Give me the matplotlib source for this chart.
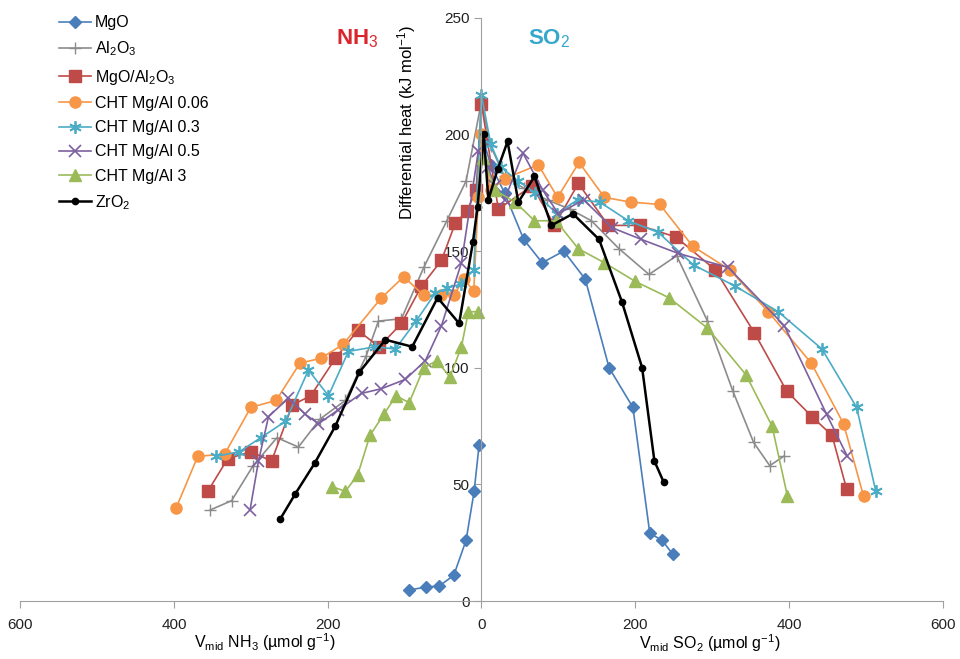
import numpy as np
import matplotlib
matplotlib.use("Agg")
import matplotlib.pyplot as plt
from matplotlib.ticker import FuncFormatter

plt.rcParams['font.family'] = ['Liberation Sans', 'DejaVu Sans']
plt.rcParams['mathtext.fontset'] = 'custom'
plt.rcParams['mathtext.rm'] = 'Liberation Sans'
plt.rcParams['mathtext.it'] = 'Liberation Sans:italic'
plt.rcParams['mathtext.bf'] = 'Liberation Sans:bold'

# uptake (umol/g) and differential heat (kJ/mol); NH3 side is drawn to the left
mgo_nh3_x = [3, 9.5, 20, 36, 55, 72, 94]
mgo_nh3_y = [67, 47, 26, 11, 6.4, 6, 4.7]
mgo_so2_x = [3, 12, 30, 55, 79, 107, 135, 166, 197, 219, 235, 249]
mgo_so2_y = [197, 187, 175, 155, 145, 150, 138, 100, 83, 29, 26, 20]

al_nh3_x = [20, 45, 75, 104, 134, 150, 177, 210, 238, 266, 297, 325, 353]
al_nh3_y = [180, 163, 143, 121, 120, 105, 86, 78, 66, 70, 58, 43, 39]
al_so2_x = [0, 12, 30, 55, 85, 115, 143, 179, 218, 254, 294, 327, 354, 375, 393]
al_so2_y = [214, 195, 182, 177, 172, 168, 163, 151, 140, 148, 120, 90, 68, 58, 62]

mgal_nh3_x = [7, 19, 34, 52, 78, 104, 133, 161, 190, 222, 246, 273, 300, 330, 356]
mgal_nh3_y = [176, 167, 162, 146, 135, 119, 109, 116, 104, 88, 84, 60, 64, 61, 47]
mgal_so2_x = [0, 22, 66, 95, 126, 165, 206, 253, 304, 355, 397, 430, 456, 475]
mgal_so2_y = [213, 168, 178, 161, 179, 161, 161, 156, 142, 115, 90, 79, 71, 48]

c006_nh3_x = [4, 10, 23, 36, 52, 75, 101, 130, 180, 209, 236, 267, 300, 334, 369, 397]
c006_nh3_y = [173, 133, 138, 131, 131, 131, 139, 130, 110, 104, 102, 86, 83, 63, 62, 40]
c006_so2_x = [0, 12, 30, 74, 99, 127, 160, 194, 232, 275, 323, 373, 429, 471, 497]
c006_so2_y = [200, 176, 181, 187, 173, 188, 173, 171, 170, 152, 142, 124, 102, 76, 45]

c03_nh3_x = [10, 26, 45, 60, 85, 112, 138, 173, 199, 225, 255, 287, 315, 345]
c03_nh3_y = [142, 136, 134, 132, 120, 108, 109, 107, 88, 99, 77, 70, 64, 62]
c03_so2_x = [0, 12, 25, 48, 70, 98, 125, 154, 191, 230, 276, 330, 386, 443, 488, 513]
c03_so2_y = [217, 196, 186, 180, 175, 166, 172, 171, 163, 158, 144, 135, 124, 108, 83, 47]

c05_nh3_x = [4, 26, 52, 73, 99, 130, 156, 186, 212, 229, 251, 277, 290, 301]
c05_nh3_y = [193, 145, 118, 103, 95, 91, 89, 82, 76, 80, 87, 79, 60, 39]
c05_so2_x = [8, 18, 30, 54, 80, 100, 133, 170, 208, 256, 321, 394, 449, 476]
c05_so2_y = [186, 178, 172, 192, 176, 166, 172, 160, 155, 149, 143, 118, 80, 62]

c3_nh3_x = [5, 17, 26, 41, 58, 75, 94, 111, 127, 145, 161, 177, 194]
c3_nh3_y = [124, 124, 109, 96, 103, 100, 85, 88, 80, 71, 54, 47, 49]
c3_so2_x = [2, 18, 44, 69, 97, 126, 160, 200, 244, 294, 344, 378, 398]
c3_so2_y = [190, 176, 171, 163, 163, 151, 145, 137, 130, 117, 97, 75, 45]

zr_nh3_x = [5, 11, 29, 57, 90, 125, 159, 190, 217, 242, 262]
zr_nh3_y = [169, 154, 119, 130, 109, 112, 98, 75, 59, 46, 35]
zr_so2_x = [3, 9, 21, 34, 48, 69, 91, 119, 153, 183, 209, 225, 237]
zr_so2_y = [200, 172, 185, 197, 171, 182, 161, 166, 155, 128, 100, 60, 51]

fig = plt.figure(figsize=(9.6, 6.59), dpi=100)
ax = fig.add_axes([0.021, 0.088, 0.961, 0.885])


def draw(nx, ny, sx, sy, label, joined, **kw):
    nx = -np.asarray(nx, float)
    if joined:
        x = np.r_[nx[::-1], sx]
        y = np.r_[np.asarray(ny)[::-1], sy]
        ax.plot(x, y, label=label, **kw)
    else:
        ax.plot(nx, ny, label=label, **kw)
        ax.plot(sx, sy, label='_nolegend_', **kw)


draw(mgo_nh3_x, mgo_nh3_y, mgo_so2_x, mgo_so2_y, 'MgO', False,
     color='#4a7ebb', marker='D', ms=6, lw=1.2)
draw(al_nh3_x, al_nh3_y, al_so2_x, al_so2_y, 'Al$_2$O$_3$', True,
     color='#8c8c8c', marker='+', ms=9, mew=1, lw=1.2)
draw(mgal_nh3_x, mgal_nh3_y, mgal_so2_x, mgal_so2_y, 'MgO/Al$_2$O$_3$', True,
     color='#be4b48', marker='s', ms=8, lw=1.2)
draw(c006_nh3_x, c006_nh3_y, c006_so2_x, c006_so2_y, 'CHT Mg/Al 0.06', True,
     color='#f79646', marker='o', ms=8, lw=1.2)
draw(c03_nh3_x, c03_nh3_y, c03_so2_x, c03_so2_y, 'CHT Mg/Al 0.3', True,
     color='#4bacc6', marker=(6, 2, 0), ms=9, mew=1.3, lw=1.2)
draw(c05_nh3_x, c05_nh3_y, c05_so2_x, c05_so2_y, 'CHT Mg/Al 0.5', True,
     color='#7d60a0', marker='x', ms=8, mew=1.2, lw=1.2)
draw(c3_nh3_x, c3_nh3_y, c3_so2_x, c3_so2_y, 'CHT Mg/Al 3', False,
     color='#9bbb59', marker='^', ms=8, lw=1.2)
draw(zr_nh3_x, zr_nh3_y, zr_so2_x, zr_so2_y, 'ZrO$_2$', True,
     color='black', marker='o', ms=4.5, lw=1.8)

ax.set_xlim(-600, 600)
ax.set_ylim(0, 250)
ax.set_xticks(np.arange(-600, 601, 200))
ax.set_yticks(np.arange(0, 251, 50))
ax.xaxis.set_major_formatter(FuncFormatter(lambda v, p: f"{abs(v):.0f}"))

for s in ['top', 'right']:
    ax.spines[s].set_visible(False)
ax.spines['left'].set_position(('data', 0))
ax.spines['left'].set_color('#a0a0a0')
ax.spines['bottom'].set_color('#a0a0a0')
ax.tick_params(axis='both', colors='#a0a0a0', labelcolor='#222222',
               labelsize=11, length=5, direction='out')
ax.tick_params(axis='x', pad=7)

ax.set_ylabel('Differential heat (kJ mol$^{-1}$)', fontsize=12)
ax.yaxis.set_label_coords(0.431, 0.82)

ax.text(0.265, -0.07, 'V$_{\\rm mid}$ NH$_3$ (µmol g$^{-1}$)', transform=ax.transAxes,
        ha='center', va='center', fontsize=11.5)
ax.text(0.747, -0.073, 'V$_{\\rm mid}$ SO$_2$ (µmol g$^{-1}$)', transform=ax.transAxes,
        ha='center', va='center', fontsize=11.5)

ax.text(-162, 241, 'NH$_3$', color='#d9262c', fontsize=16, fontweight='bold',
        ha='center', va='center')
ax.text(88, 241, 'SO$_2$', color='#35a8cc', fontsize=16, fontweight='bold',
        ha='center', va='center')

leg = ax.legend(loc='upper left', bbox_to_anchor=(0.035, 1.015), frameon=False,
                fontsize=11.5, handlelength=2.0, labelspacing=0.58, borderaxespad=0,
                handletextpad=0.25)

fig.savefig('out.png', dpi=100)
